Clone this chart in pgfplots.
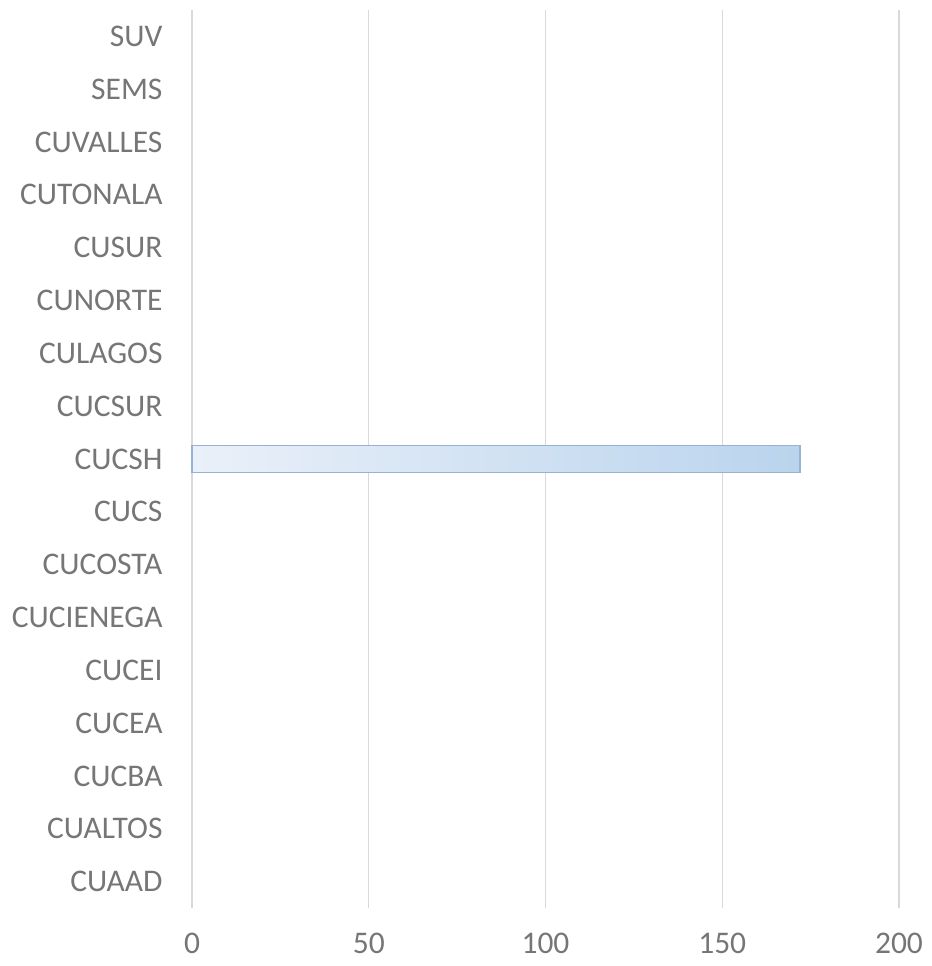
\documentclass[border=0pt]{standalone}
\usepackage{pgfplots}
\pgfplotsset{compat=1.18}
\usepackage{fontspec}
\setmainfont{Carlito}
\definecolor{gridgray}{RGB}{217,217,217}
\definecolor{labelgray}{RGB}{118,118,118}
\definecolor{barleft}{RGB}{234,240,249}
\definecolor{barright}{RGB}{186,212,237}
\definecolor{baredge}{RGB}{149,179,213}

\begin{document}
\begin{tikzpicture}
  \begin{axis}[
    scale only axis,
    width=707pt,
    height=898pt,
    xmin=0, xmax=200,
    ymin=-0.5, ymax=16.5,
    xtick={0,50,100,150,200},
    ytick={0,...,16},
    yticklabels={CUAAD,CUALTOS,CUCBA,CUCEA,CUCEI,CUCIENEGA,CUCOSTA,CUCS,CUCSH,CUCSUR,CULAGOS,CUNORTE,CUSUR,CUTONALA,CUVALLES,SEMS,SUV},
    axis line style={draw=none},
    major tick length=0pt,
    xmajorgrids,
    grid style={gridgray, line width=1.3pt},
    /pgf/number format/assume math mode=true,
    ticklabel style={font=\fontsize{31.5}{37}\selectfont, text=labelgray},
    xticklabel style={yshift=-22pt},
    yticklabel style={xshift=-26pt},
    clip=false,
  ]
    % only CUCSH has a value
    \addplot[xbar, bar width=0.51, left color=barleft, right color=barright,
      draw=baredge, line width=1.2pt]
      coordinates {(172,8)};
    \coordinate (bl) at (rel axis cs:-0.27157,-0.06459);
    \coordinate (tr) at (rel axis cs:1.04668,1.01114);
  \end{axis}
  \path (bl) rectangle (tr);
\end{tikzpicture}
\end{document}
